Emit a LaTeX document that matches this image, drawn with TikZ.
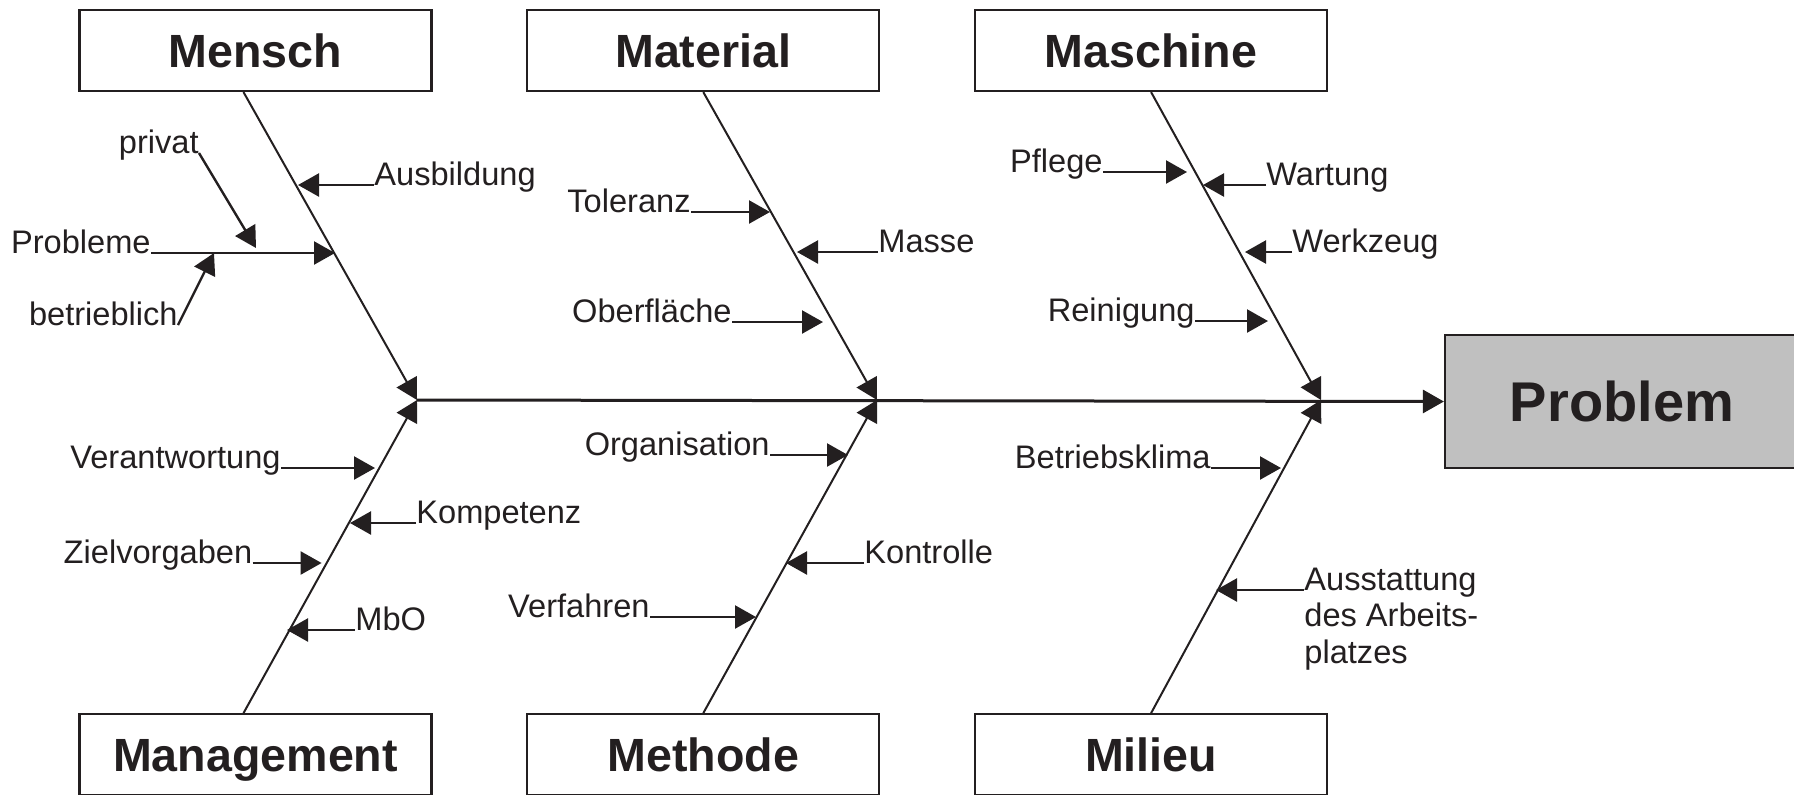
\documentclass[tikz,border=0pt]{standalone}
\usepackage{fontspec}
\setmainfont{Liberation Sans}
\usetikzlibrary{positioning, arrows.meta}

\definecolor{ink}{RGB}{35,31,32}
\definecolor{boxgray}{RGB}{192,192,192}

\tikzset{
  cause/.style = {draw=ink, line width=1.1pt, minimum width=176pt, minimum height=40.5pt,
    inner sep=0pt, text height=16.7pt, text depth=0pt, text=ink,
    font=\fontsize{23.3}{26}\selectfont\bfseries},
  effect/.style = {cause, fill=boxgray, minimum width=177pt, minimum height=66.5pt,
    text height=20pt, font=\fontsize{28}{32}\selectfont\bfseries},
  lbl/.style = {inner sep=0pt, text=ink, font=\fontsize{16.3}{18.35}\selectfont},
  bone/.style = {->, draw=ink, line width=1pt},
  spine/.style = {->, draw=ink, line width=1.5pt},
  twig/.style = {->, draw=ink, line width=1.2pt},
}

\begin{document}
\begin{tikzpicture}[x=0.5pt, y=-0.5pt, >={Triangle[length=10.5pt, width=11.5pt]}]
  \useasboundingbox (0,0) rectangle (1794,794);

  % Haupteinflussgroessen
  \node[cause] (mensch) at (255.5,50.5) {Mensch};
  \node[cause] (material) [right = 46.8pt of mensch] {Material};
  \node[cause] (maschine) [right = 46.8pt of material] {Maschine};
  \node[cause] (management) [below = 310.5pt of mensch] {Management};
  \node[cause] (methode) [below = 310.5pt of material] {Methode};
  \node[cause] (milieu) [below = 310.5pt of maschine] {Milieu};
  \node[effect] (problem) at (1622,401.5) {Problem};

  \coordinate (jl) at (417,400);
  \coordinate (jm) at (877,400);
  \coordinate (jr) at (1321,400);

  \draw[bone] ([xshift=-6pt]mensch.south) -- (jl);
  \draw[bone] ([xshift=-6pt]management.north) -- (jl);
  \draw[bone] (material.south) -- (jm);
  \draw[bone] (methode.north) -- (jm);
  \draw[bone] (maschine.south) -- (jr);
  \draw[bone] (milieu.north) -- (jr);
  \draw[spine] (jl) -- (problem.west);

  % Nebenursachen
  \node[lbl, anchor=base west] (ausbildung) at (374,185) {Ausbildung};
  \node[lbl, anchor=base east] (privat) at (199,153) {privat};
  \node[lbl, anchor=base east] (probleme) at (151,253) {Probleme};
  \node[lbl, anchor=base east] (betrieblich) at (178,325) {betrieblich};
  \node[lbl, anchor=base east] (toleranz) at (691,212) {Toleranz};
  \node[lbl, anchor=base west] (masse) at (878,252) {Masse};
  \node[lbl, anchor=base east] (oberflaeche) at (732,322) {Oberfläche};
  \node[lbl, anchor=base east] (pflege) at (1103,172) {Pflege};
  \node[lbl, anchor=base west] (wartung) at (1266,185) {Wartung};
  \node[lbl, anchor=base west] (werkzeug) at (1292,252) {Werkzeug};
  \node[lbl, anchor=base east] (reinigung) at (1195,321) {Reinigung};
  \node[lbl, anchor=base east] (verantwortung) at (281,468) {Verantwortung};
  \node[lbl, anchor=base west] (kompetenz) at (416,523) {Kompetenz};
  \node[lbl, anchor=base east] (zielvorgaben) at (252.6,563) {Zielvorgaben};
  \node[lbl, anchor=base west] (mbo) at (355,630) {MbO};
  \node[lbl, anchor=base east] (organisation) at (770,455) {Organisation};
  \node[lbl, anchor=base west] (kontrolle) at (864,563) {Kontrolle};
  \node[lbl, anchor=base east] (verfahren) at (650,617) {Verfahren};
  \node[lbl, anchor=base east] (betriebsklima) at (1211,468) {Betriebsklima};
  \node[lbl, anchor=base west, align=left] (ausstattung) at (1304,663.4)
    {Ausstattung\\des Arbeits-\\platzes};
  \coordinate (ausstattung-s) at ([yshift=36.7pt]ausstattung.base west);

  \coordinate[left = 38pt of ausbildung.base west] (ausbildung-t);
  \coordinate[below right = 47.5pt and 28.5pt of privat.base east] (privat-t);
  \coordinate[right = 92pt of probleme.base east] (probleme-t);
  \coordinate[above right = 36pt and 18pt of betrieblich.base east] (betrieblich-t);
  \coordinate[right = 39.5pt of toleranz.base east] (toleranz-t);
  \coordinate[left = 40.5pt of masse.base west] (masse-t);
  \coordinate[right = 45.5pt of oberflaeche.base east] (oberflaeche-t);
  \coordinate[right = 42pt of pflege.base east] (pflege-t);
  \coordinate[left = 31.5pt of wartung.base west] (wartung-t);
  \coordinate[left = 23.5pt of werkzeug.base west] (werkzeug-t);
  \coordinate[right = 36.5pt of reinigung.base east] (reinigung-t);
  \coordinate[right = 47pt of verantwortung.base east] (verantwortung-t);
  \coordinate[left = 33pt of kompetenz.base west] (kompetenz-t);
  \coordinate[right = 34.5pt of zielvorgaben.base east] (zielvorgaben-t);
  \coordinate[left = 34pt of mbo.base west] (mbo-t);
  \coordinate[right = 39pt of organisation.base east] (organisation-t);
  \coordinate[left = 39pt of kontrolle.base west] (kontrolle-t);
  \coordinate[right = 53pt of verfahren.base east] (verfahren-t);
  \coordinate[right = 35pt of betriebsklima.base east] (betriebsklima-t);
  \coordinate[left = 44pt of ausstattung-s] (ausstattung-t);

  \path[every edge/.style={twig}]
    (ausbildung.base west) edge (ausbildung-t)
    (privat.base east) edge (privat-t)
    (probleme.base east) edge (probleme-t)
    (betrieblich.base east) edge (betrieblich-t)
    (toleranz.base east) edge (toleranz-t)
    (masse.base west) edge (masse-t)
    (oberflaeche.base east) edge (oberflaeche-t)
    (pflege.base east) edge (pflege-t)
    (wartung.base west) edge (wartung-t)
    (werkzeug.base west) edge (werkzeug-t)
    (reinigung.base east) edge (reinigung-t)
    (verantwortung.base east) edge (verantwortung-t)
    (kompetenz.base west) edge (kompetenz-t)
    (zielvorgaben.base east) edge (zielvorgaben-t)
    (mbo.base west) edge (mbo-t)
    (organisation.base east) edge (organisation-t)
    (kontrolle.base west) edge (kontrolle-t)
    (verfahren.base east) edge (verfahren-t)
    (betriebsklima.base east) edge (betriebsklima-t)
    (ausstattung-s) edge (ausstattung-t)
  ;
\end{tikzpicture}
\end{document}
